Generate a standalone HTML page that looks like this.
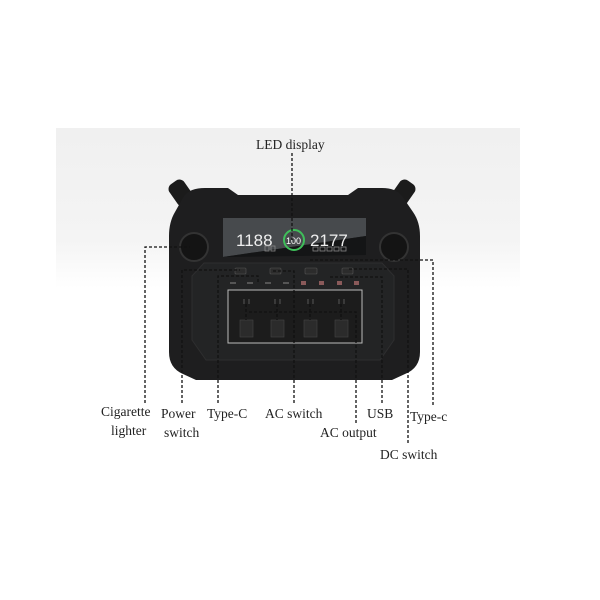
<!DOCTYPE html>
<html><head><meta charset="utf-8"><style>
html,body{margin:0;padding:0;background:#fff;}
svg{display:block}
text{font-family:"Liberation Serif",serif;font-size:13.5px;fill:#222;}
</style></head><body>
<svg width="600" height="600" viewBox="0 0 600 600" xmlns="http://www.w3.org/2000/svg">
<defs>
<linearGradient id="bg" x1="0" y1="0" x2="0" y2="1">
<stop offset="0" stop-color="#f0f0f0"/><stop offset="0.7" stop-color="#f4f4f4"/><stop offset="1" stop-color="#ffffff"/>
</linearGradient>
</defs>
<rect x="56" y="128" width="464" height="160" fill="url(#bg)"/>
<rect x="172" y="180" width="18" height="26" rx="6" fill="#1b1b1b" transform="rotate(-35 181 193)"/>
<rect x="394" y="180" width="18" height="26" rx="6" fill="#1b1b1b" transform="rotate(35 403 193)"/>
<path d="M184 196 Q190 188 205 188 L228 188 L238 195 L348 195 L358 188 L382 188 Q396 188 402 196 L413 212 Q420 222 420 236 L420 352 Q420 368 405 374 L392 380 L196 380 L183 374 Q169 368 169 352 L169 236 Q169 222 175 212 Z" fill="#1e1e1f"/>
<path d="M204 263 L382 263 L394 276 L394 340 L380 360 L206 360 L192 340 L192 276 Z" fill="#232425" stroke="#2e2e2f"/>
<path d="M223 218 L366 218 L366 236 L223 257 Z" fill="#474a4d"/>
<path d="M223 257 L366 236 L366 255 L230 257 Z" fill="#141516"/>
<text x="236" y="246" style="font-family:'Liberation Sans',sans-serif;font-size:17px;fill:#eee">1188</text>
<text x="310" y="246" style="font-family:'Liberation Sans',sans-serif;font-size:17px;fill:#eee">2177</text>
<circle cx="294" cy="240" r="10" fill="none" stroke="#3fbf5a" stroke-width="2"/>
<text x="286" y="244" style="font-family:'Liberation Sans',sans-serif;font-size:9px;fill:#fff">100</text>
<g fill="none" stroke="#888" stroke-width="0.8">
<rect x="313" y="247" width="5" height="4"/><rect x="320" y="247" width="5" height="4"/><rect x="327" y="247" width="5" height="4"/><rect x="334" y="247" width="5" height="4"/><rect x="341" y="247" width="5" height="4"/>
<rect x="265" y="246" width="4" height="5"/><rect x="271" y="246" width="4" height="5"/>
</g>
<circle cx="194" cy="247" r="14" fill="#141414" stroke="#333" stroke-width="2"/>
<circle cx="394" cy="247" r="14" fill="#141414" stroke="#333" stroke-width="2"/>
<g fill="#2c2c2c" stroke="#555" stroke-width="0.6">
<rect x="235" y="268" width="11" height="6" rx="1"/><rect x="270" y="268" width="11" height="6" rx="1"/><rect x="305" y="268" width="12" height="6" rx="1"/><rect x="342" y="268" width="11" height="6" rx="1"/>
</g>
<g fill="#8a5a5a"><rect x="301" y="281" width="5" height="4"/><rect x="319" y="281" width="5" height="4"/><rect x="337" y="281" width="5" height="4"/><rect x="354" y="281" width="5" height="4"/></g>
<g fill="#555"><rect x="230" y="282" width="6" height="2"/><rect x="247" y="282" width="6" height="2"/><rect x="265" y="282" width="6" height="2"/><rect x="283" y="282" width="6" height="2"/></g>
<rect x="228" y="290" width="134" height="53" fill="#1c1c1c" stroke="#bbb" stroke-width="1"/>
<g fill="#2b2b2b" stroke="#444" stroke-width="0.6">
<rect x="240" y="320" width="13" height="17"/><rect x="271" y="320" width="13" height="17"/><rect x="304" y="320" width="13" height="17"/><rect x="335" y="320" width="13" height="17"/>
</g>
<g stroke="#666" stroke-width="0.8"><path d="M244 299v5M249 299v5M275 299v5M280 299v5M308 299v5M313 299v5M339 299v5M344 299v5"/></g>
<g fill="none" stroke="#111" stroke-width="1.3" stroke-dasharray="3,2">
<path d="M292 153 V240"/>
<path d="M145 403 V247 H190"/>
<path d="M182 403 V270 H240"/>
<path d="M218 403 V276 H258 V282"/>
<path d="M294 403 V271 H271"/>
<path d="M356 423 V312 H248 M246 304 V320 M277 304 V320 M310 304 V320 M341 304 V320"/>
<path d="M382 403 V277 H330"/>
<path d="M408 443 V269 H349"/>
<path d="M433 405 V260 H310"/>
</g>
<text x="256" y="149">LED display</text>
<text x="101" y="416">Cigarette</text>
<text x="111" y="435">lighter</text>
<text x="161" y="418">Power</text>
<text x="164" y="437">switch</text>
<text x="207" y="418">Type-C</text>
<text x="265" y="418">AC switch</text>
<text x="367" y="418">USB</text>
<text x="410" y="421">Type-c</text>
<text x="320" y="437">AC output</text>
<text x="380" y="459">DC switch</text>
</svg>
</body></html>
